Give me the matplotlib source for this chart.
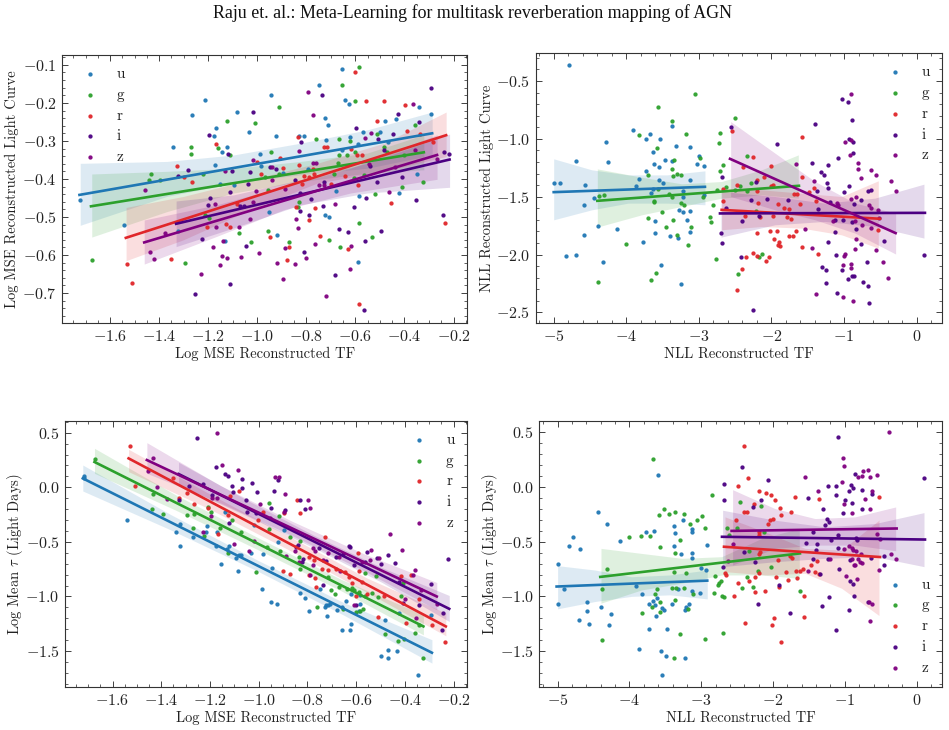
import matplotlib

matplotlib.use("Agg")
import matplotlib.pyplot as plt
import numpy as np

plt.rcParams["font.family"] = ["cmr10", "DejaVu Serif"]
plt.rcParams["mathtext.fontset"] = "cm"
plt.rcParams["axes.formatter.use_mathtext"] = True
plt.rcParams["axes.unicode_minus"] = True

BANDS = ["u", "g", "r", "i", "z"]
COLORS = ["#1f77b4", "#2ca02c", "#e0262a", "#4b0082", "#800080"]

# (x, y) scatter per band, MSE light curve vs MSE transfer function
MSE_LC_U = [(-1.722, -0.456), (-1.543, -0.522), (-1.343, -0.317), (-1.267, -0.231), (-1.212, -0.193), (-1.167, -0.265), (-1.175, -0.287), (-1.142, -0.33), (-1.122, -0.317), (-1.083, -0.225), (-1.034, -0.277), (-0.946, -0.178), (-0.925, -0.287), (-0.988, -0.335), (-0.985, -0.367), (-1.173, -0.364), (-1.152, -0.413), (-1.097, -0.415), (-0.897, -0.385), (-0.951, -0.487), (-0.92, -0.548), (-1.131, -0.563), (-1.322, -0.536), (-0.829, -0.287), (-0.81, -0.287), (-0.747, -0.153), (-0.724, -0.241), (-0.712, -0.258), (-0.72, -0.297), (-0.654, -0.112), (-0.641, -0.192), (-0.626, -0.202), (-0.623, -0.29), (-0.656, -0.324), (-0.589, -0.308), (-0.569, -0.277), (-0.499, -0.277), (-0.479, -0.247), (-0.433, -0.242), (-0.467, -0.304), (-0.339, -0.21), (-0.291, -0.23), (-0.347, -0.387), (-0.422, -0.437), (-0.584, -0.444), (-0.678, -0.432), (-0.724, -0.495), (-0.709, -0.5), (-0.589, -0.619), (-0.793, -0.375)]
MSE_LC_G = [(-1.673, -0.614), (-1.442, -0.402), (-1.434, -0.388), (-1.395, -0.402), (-1.272, -0.317), (-1.269, -0.334), (-1.22, -0.387), (-1.159, -0.319), (-1.124, -0.247), (-1.113, -0.336), (-1.008, -0.252), (-0.912, -0.21), (-0.944, -0.329), (-0.967, -0.394), (-0.958, -0.428), (-0.913, -0.386), (-0.761, -0.294), (-0.665, -0.294), (-0.654, -0.154), (-0.601, -0.196), (-0.584, -0.105), (-0.623, -0.301), (-0.665, -0.336), (-0.635, -0.336), (-0.603, -0.329), (-0.669, -0.357), (-0.688, -0.387), (-0.607, -0.398), (-0.563, -0.39), (-0.51, -0.282), (-0.482, -0.315), (-0.471, -0.329), (-0.403, -0.337), (-0.411, -0.42), (-0.52, -0.439), (-0.355, -0.259), (-0.325, -0.409), (-0.584, -0.516), (-0.532, -0.554), (-0.706, -0.561), (-0.663, -0.579), (-0.871, -0.566), (-0.958, -0.537), (-1.027, -0.566), (-1.075, -0.541), (-1.295, -0.621), (-1.196, -0.502), (-0.829, -0.461), (-0.833, -0.473), (-1.214, -0.494)]
MSE_LC_R = [(-1.533, -0.625), (-1.512, -0.673), (-1.352, -0.61), (-1.329, -0.366), (-1.3, -0.396), (-1.267, -0.407), (-1.167, -0.307), (-1.205, -0.527), (-1.128, -0.518), (-1.11, -0.527), (-1.082, -0.465), (-1.003, -0.355), (-0.985, -0.386), (-0.906, -0.345), (-0.894, -0.372), (-0.835, -0.29), (-0.831, -0.364), (-0.947, -0.554), (-0.871, -0.58), (-0.88, -0.612), (-0.842, -0.475), (-0.811, -0.392), (-0.818, -0.414), (-0.79, -0.394), (-0.79, -0.508), (-0.766, -0.477), (-0.743, -0.549), (-0.773, -0.374), (-0.767, -0.387), (-0.727, -0.315), (-0.716, -0.316), (-0.701, -0.413), (-0.641, -0.392), (-0.63, -0.585), (-0.616, -0.32), (-0.601, -0.12), (-0.593, -0.337), (-0.573, -0.336), (-0.589, -0.417), (-0.555, -0.196), (-0.51, -0.247), (-0.484, -0.196), (-0.456, -0.464), (-0.396, -0.206), (-0.39, -0.273), (-0.337, -0.282), (-0.283, -0.302), (-0.234, -0.515), (-0.586, -0.729)]
MSE_LC_I = [(-0.566, -0.746), (-1.256, -0.702), (-1.11, -0.677), (-0.683, -0.653), (-1.226, -0.559), (-1.199, -0.469), (-1.192, -0.451), (-1.113, -0.435), (-1.325, -0.393), (-1.283, -0.376), (-1.195, -0.284), (-1.12, -0.334), (-1.103, -0.378), (-1.029, -0.383), (-1.039, -0.413), (-1.016, -0.225), (-0.947, -0.369), (-0.922, -0.374), (-0.735, -0.178), (-0.822, -0.304), (-0.845, -0.404), (-0.827, -0.436), (-0.824, -0.484), (-0.789, -0.494), (-0.808, -0.593), (-0.781, -0.453), (-0.732, -0.47), (-0.729, -0.407), (-0.665, -0.532), (-0.63, -0.539), (-0.599, -0.265), (-0.604, -0.475), (-0.562, -0.564), (-0.555, -0.45), (-0.542, -0.366), (-0.513, -0.409), (-0.507, -0.295), (-0.482, -0.323), (-0.495, -0.537), (-0.445, -0.283), (-0.426, -0.228), (-0.411, -0.396), (-0.351, -0.455), (-0.34, -0.249), (-0.291, -0.16), (-0.242, -0.495), (-0.24, -0.329), (-0.22, -0.334), (-1.069, -0.47), (-1.056, -0.471), (-1.048, -0.576)]
MSE_LC_Z = [(-1.457, -0.43), (-1.438, -0.593), (-1.42, -0.61), (-1.378, -0.543), (-1.23, -0.649), (-1.171, -0.465), (-1.169, -0.527), (-1.18, -0.579), (-1.142, -0.602), (-1.152, -0.627), (-1.125, -0.608), (-1.14, -0.563), (-1.131, -0.38), (-1.076, -0.526), (-1.068, -0.606), (-1.031, -0.506), (-1.019, -0.461), (-1.004, -0.432), (-1.016, -0.351), (-0.993, -0.594), (-0.94, -0.369), (-0.94, -0.404), (-0.92, -0.62), (-0.897, -0.664), (-0.888, -0.583), (-0.887, -0.426), (-0.848, -0.623), (-0.841, -0.505), (-0.834, -0.528), (-0.831, -0.327), (-0.8, -0.607), (-0.792, -0.171), (-0.774, -0.231), (-0.773, -0.358), (-0.762, -0.357), (-0.766, -0.572), (-0.75, -0.416), (-0.729, -0.416), (-0.718, -0.707), (-0.683, -0.465), (-0.618, -0.576), (-0.623, -0.638), (-0.561, -0.292), (-0.535, -0.28), (-0.543, -0.361), (-0.463, -0.435), (-0.44, -0.368), (-0.366, -0.203), (-0.359, -0.324), (-0.269, -0.348)]

# NLL light curve vs NLL transfer function
NLL_LC_U = [(-4.784, -0.362), (-4.991, -1.378), (-4.913, -1.378), (-4.697, -1.196), (-4.564, -1.401), (-4.44, -1.51), (-4.587, -1.571), (-4.587, -1.83), (-4.835, -2.011), (-4.688, -2.008), (-4.325, -2.068), (-4.389, -1.752), (-4.284, -1.027), (-4.256, -1.202), (-4.128, -1.778), (-3.907, -0.923), (-3.87, -1.406), (-3.82, -1.346), (-3.765, -1.89), (-3.728, -0.998), (-3.678, -0.96), (-3.724, -1.274), (-3.655, -1.47), (-3.636, -1.435), (-3.636, -1.11), (-3.618, -1.222), (-3.609, -1.711), (-3.6, -1.818), (-3.554, -1.24), (-3.54, -1.004), (-3.554, -1.355), (-3.494, -1.383), (-3.471, -1.185), (-3.522, -2.094), (-3.393, -1.844), (-3.375, -0.888), (-3.366, -1.191), (-3.32, -1.058), (-3.283, -1.861), (-3.269, -1.619), (-3.251, -2.255), (-3.223, -1.634), (-3.223, -1.504), (-3.214, -1.453), (-3.168, -1.7), (-3.122, -1.07), (-3.127, -1.355), (-3.122, -1.628), (-3.127, -1.809), (-3.021, -1.222), (-2.998, -1.145), (-2.925, -1.234), (-2.925, -1.49)]
NLL_LC_G = [(-4.389, -2.238), (-4.371, -1.493), (-4.302, -1.487), (-4.004, -1.91), (-3.82, -0.966), (-3.705, -1.688), (-3.696, -1.317), (-3.664, -2.218), (-3.59, -2.16), (-3.581, -1.081), (-3.568, -0.724), (-3.623, -1.545), (-3.618, -1.536), (-3.512, -1.634), (-3.453, -1.758), (-3.568, -1.435), (-3.407, -1.476), (-3.375, -1.265), (-3.366, -0.845), (-3.347, -1.185), (-3.356, -1.32), (-3.366, -1.504), (-3.356, -1.7), (-3.297, -1.303), (-3.242, -1.314), (-3.297, -1.835), (-3.246, -1.556), (-3.2, -1.568), (-3.182, -0.958), (-3.154, -1.919), (-3.108, -1.766), (-3.053, -0.615), (-2.984, -1.168), (-2.943, -1.501), (-2.847, -1.677), (-2.828, -1.723), (-2.805, -1.568), (-2.769, -2.037), (-2.75, -1.441), (-2.718, -1.035), (-2.709, -0.949), (-2.709, -1.277), (-2.672, -1.228), (-2.631, -1.415), (-2.502, -0.822), (-2.461, -2.172), (-2.337, -1.147), (-2.282, -1.378), (-2.337, -1.447), (-2.433, -1.409), (-2.213, -1.622), (-2.176, -2.025), (-2.135, -1.996), (-2.502, -1.444)]
NLL_LC_R = [(-2.548, -0.929), (-2.672, -1.43), (-2.663, -1.536), (-2.479, -1.401), (-2.388, -1.24), (-2.25, -1.156), (-2.479, -2.31), (-2.406, -2.129), (-2.346, -2.019), (-2.365, -1.663), (-2.25, -1.988), (-2.204, -2.011), (-2.204, -1.45), (-2.195, -1.355), (-2.181, -1.559), (-2.204, -1.812), (-2.158, -1.68), (-2.107, -1.329), (-2.039, -2.019), (-2.08, -2.06), (-2.006, -1.412), (-2.002, -1.234), (-1.974, -1.398), (-1.974, -1.668), (-2.02, -1.795), (-1.928, -1.795), (-1.96, -1.87), (-1.896, -1.89), (-1.915, -1.922), (-1.882, -1.93), (-1.91, -1.562), (-1.823, -1.6), (-1.781, -1.674), (-1.754, -1.608), (-1.731, -1.694), (-1.758, -1.844), (-1.699, -1.844), (-1.662, -1.795), (-1.685, -1.481), (-1.644, -1.478), (-1.607, -1.562), (-1.584, -1.936), (-1.575, -0.986), (-1.575, -1.329), (-1.478, -1.458), (-1.41, -1.427), (-1.391, -1.536), (-1.364, -1.996), (-0.528, -1.792)]
NLL_LC_I = [(-2.681, -1.329), (-2.69, -1.812), (-2.677, -1.899), (-2.626, -1.594), (-2.557, -0.9), (-2.406, -1.712), (-2.424, -2.025), (-2.25, -2.48), (-2.287, -1.527), (-2.213, -1.372), (-2.167, -1.671), (-2.066, -1.522), (-1.924, -1.044), (-1.768, -1.527), (-1.4, -0.871), (-1.442, -1.211), (-1.377, -1.45), (-1.354, -1.608), (-1.322, -1.286), (-1.272, -1.317), (-1.226, -1.225), (-1.23, -1.378), (-1.217, -1.421), (-1.226, -1.893), (-1.198, -1.545), (-1.249, -2.132), (-1.304, -2.112), (-1.253, -2.244), (-1.102, -2.333), (-1.12, -1.7), (-1.12, -1.809), (-1.116, -2.002), (-1.088, -1.168), (-0.95, -0.681), (-0.932, -1.001), (-0.937, -1.412), (-1.0, -1.458), (-1.01, -1.7), (-1.024, -2.132), (-0.946, -2.212), (-0.891, -2.189), (-0.863, -2.189), (-0.891, -0.837), (-0.882, -1.119), (-0.872, -1.03), (-0.895, -1.717), (-0.84, -1.781), (-0.859, -1.565), (-0.767, -1.907), (-0.767, -1.533), (-0.67, -1.455), (-0.629, -1.441), (-0.735, -2.238), (-0.67, -2.273), (-0.652, -2.417), (-0.455, -1.887), (0.101, -2.002), (-1.033, -0.658), (-0.68, -2.068)]
NLL_LC_Z = [(-1.662, -1.222), (-1.534, -1.783), (-1.437, -1.948), (-1.391, -2.339), (-1.41, -1.366), (-1.152, -1.709), (-1.097, -1.556), (-1.079, -1.568), (-1.015, -2.091), (-1.015, -2.371), (-0.992, -1.027), (-1.006, -2.017), (-0.987, -1.996), (-0.9, -0.612), (-0.9, -1.009), (-0.923, -1.142), (-0.904, -1.516), (-0.9, -2.08), (-0.9, -2.114), (-0.872, -2.402), (-0.845, -1.953), (-0.84, -1.87), (-0.836, -1.499), (-0.854, -1.711), (-0.813, -1.208), (-0.803, -1.257), (-0.767, -1.335), (-0.748, -1.746), (-0.629, -1.268), (-0.56, -1.309), (-0.657, -1.571), (-0.629, -1.599), (-0.629, -1.772), (-0.528, -1.619), (-0.556, -1.959), (-0.519, -1.686), (-0.459, -2.068), (-0.39, -2.201), (-0.358, -1.366), (-0.289, -1.45)]

# mean lag vs MSE transfer function
MSE_TAU_U = [(-1.719, 0.107), (-1.719, 0.082), (-1.541, -0.299), (-1.34, -0.405), (-1.324, -0.534), (-1.321, -0.335), (-1.268, -0.457), (-1.211, -0.357), (-1.216, -0.409), (-1.176, -0.534), (-1.17, -0.405), (-1.154, -0.704), (-1.138, -0.229), (-1.12, -0.534), (-1.131, -0.564), (-1.095, -0.643), (-1.082, -0.619), (-1.072, -0.619), (-1.083, -0.762), (-1.032, -0.601), (-1.019, -0.345), (-0.986, -0.93), (-0.983, -0.61), (-0.947, -0.741), (-0.949, -1.052), (-0.926, -1.07), (-0.919, -0.497), (-0.895, -0.39), (-0.83, -0.97), (-0.808, -1.012), (-0.794, -1.134), (-0.748, -0.936), (-0.724, -1.076), (-0.727, -1.098), (-0.714, -1.082), (-0.707, -1.067), (-0.72, -1.183), (-0.677, -1.128), (-0.657, -1.098), (-0.657, -1.305), (-0.64, -1.04), (-0.626, -1.305), (-0.62, -1.25), (-0.623, -0.976), (-0.59, -1.131), (-0.585, -1.07), (-0.586, -0.988), (-0.497, -1.546), (-0.482, -1.216), (-0.47, -1.488), (-0.47, -1.564), (-0.433, -1.497), (-0.425, -1.152), (-0.348, -1.716), (-0.292, -1.165)]
MSE_TAU_G = [(-1.672, 0.256), (-1.433, -0.064), (-1.439, -0.198), (-1.392, -0.247), (-1.295, -0.256), (-1.27, -0.375), (-1.266, -0.244), (-1.224, -0.448), (-1.21, -0.177), (-1.196, -0.229), (-1.158, -0.369), (-1.109, -0.299), (-1.125, -0.601), (-1.073, -0.409), (-1.009, -0.78), (-0.967, -0.543), (-0.956, -0.381), (-0.958, -0.14), (-0.915, -0.259), (-0.912, -0.582), (-0.871, -0.454), (-0.83, -0.488), (-0.833, -0.634), (-0.83, -0.747), (-0.76, -1.095), (-0.714, -0.826), (-0.704, -0.939), (-0.688, -0.976), (-0.672, -0.909), (-0.656, -1.113), (-0.638, -0.93), (-0.618, -0.918), (-0.608, -0.939), (-0.59, -0.96), (-0.601, -1.143), (-0.584, -1.137), (-0.562, -0.787), (-0.573, -1.113), (-0.562, -0.994), (-0.533, -0.97), (-0.518, -0.811), (-0.512, -1.006), (-0.481, -1.341), (-0.43, -1.405), (-0.414, -0.991), (-0.408, -0.878), (-0.357, -1.335), (-0.344, -1.259), (-0.325, -1.564), (-0.403, -1.39)]
MSE_TAU_R = [(-1.53, 0.378), (-1.507, 0.012), (-1.35, 0.082), (-1.326, -0.095), (-1.296, -0.052), (-1.265, -0.152), (-1.207, -0.189), (-1.165, -0.43), (-1.118, -0.076), (-1.125, -0.253), (-1.082, -0.034), (-1.001, -0.299), (-0.984, -0.229), (-0.902, -0.765), (-0.895, -0.232), (-0.871, -0.793), (-0.844, -0.116), (-0.83, -0.232), (-0.792, -0.634), (-0.775, -0.665), (-0.792, -0.802), (-0.768, -0.829), (-0.764, -0.912), (-0.729, -0.457), (-0.741, -0.744), (-0.714, -0.756), (-0.682, -0.75), (-0.645, -0.777), (-0.629, -0.823), (-0.615, -0.878), (-0.592, -0.604), (-0.588, -0.771), (-0.574, -0.863), (-0.556, -0.973), (-0.601, -1.0), (-0.511, -1.189), (-0.484, -0.991), (-0.396, -1.247), (-0.414, -0.808), (-0.376, -0.802), (-0.344, -1.024), (-0.287, -1.259), (-0.235, -1.418)]
MSE_TAU_I = [(-1.328, -0.116), (-1.255, 0.454), (-1.284, 0.012), (-1.227, 0.027), (-1.176, 0.189), (-1.192, -0.073), (-1.139, 0.119), (-1.125, 0.107), (-1.11, 0.012), (-1.107, -0.04), (-1.123, -0.323), (-1.069, 0.076), (-1.068, -0.009), (-1.053, -0.116), (-1.046, -0.229), (-1.013, -0.238), (-1.028, 0.043), (-1.006, -0.04), (-0.949, -0.186), (-0.921, 0.067), (-0.939, -0.034), (-0.894, -0.207), (-0.831, -0.116), (-0.809, -0.198), (-0.848, -0.543), (-0.837, -0.527), (-0.823, -0.68), (-0.819, -0.655), (-0.753, -0.558), (-0.737, -0.893), (-0.724, -0.671), (-0.683, -0.637), (-0.652, -0.607), (-0.625, -0.549), (-0.629, -0.534), (-0.608, -0.716), (-0.556, -0.595), (-0.563, -0.68), (-0.499, -0.704), (-0.515, -0.652), (-0.47, -0.619), (-0.439, -0.689), (-0.426, -0.863), (-0.406, -1.061), (-0.344, -1.082), (-0.292, -0.887), (-0.246, -1.311), (-0.242, -1.152), (-0.221, -0.659), (-0.6, -1.076)]
MSE_TAU_Z = [(-1.456, 0.146), (-1.434, 0.265), (-1.418, 0.006), (-1.377, -0.11), (-1.227, -0.412), (-1.194, -0.259), (-1.192, -0.101), (-1.172, 0.5), (-1.151, 0.201), (-1.17, -0.101), (-1.086, 0.159), (-1.103, -0.521), (-1.038, -0.582), (-1.021, -0.488), (-0.994, -0.152), (-0.953, -0.284), (-0.935, 0.098), (-0.917, 0.098), (-0.89, -0.064), (-0.895, -0.223), (-0.887, -0.625), (-0.849, -0.582), (-0.833, -0.68), (-0.798, -0.116), (-0.789, -0.192), (-0.778, -0.558), (-0.768, -0.579), (-0.778, -0.716), (-0.789, -0.802), (-0.716, -0.598), (-0.734, -0.665), (-0.666, -0.771), (-0.672, -0.634), (-0.607, -1.076), (-0.577, -0.68), (-0.54, -0.576), (-0.543, -0.665), (-0.508, -0.649), (-0.463, -0.43), (-0.411, -0.576), (-0.399, -1.021), (-0.365, -0.802), (-0.359, -0.759), (-0.354, -1.198), (-0.335, -0.942), (-0.269, -1.067)]

# mean lag vs NLL transfer function
NLL_TAU_U = [(-4.995, -0.704), (-4.995, -1.068), (-4.907, -0.929), (-4.838, -0.537), (-4.791, -0.458), (-4.694, -0.564), (-4.708, -1.214), (-4.592, -1.05), (-4.587, -1.132), (-4.568, -1.25), (-4.443, -0.228), (-4.318, -0.334), (-4.396, -1.093), (-4.29, -1.263), (-4.262, -1.162), (-4.136, -0.492), (-3.904, -0.904), (-3.872, -1.484), (-3.825, -0.98), (-3.77, -0.413), (-3.728, -1.071), (-3.728, -1.302), (-3.663, -0.404), (-3.677, -1.038), (-3.644, -1.08), (-3.621, -1.011), (-3.635, -1.181), (-3.603, 0.106), (-3.556, -1.496), (-3.547, -1.102), (-3.524, -1.123), (-3.547, -1.715), (-3.496, -1.542), (-3.477, -1.302), (-3.403, -1.074), (-3.38, -0.355), (-3.37, -0.422), (-3.38, -0.537), (-3.329, -0.935), (-3.282, -0.61), (-3.222, -1.563), (-3.259, -0.3), (-3.227, -1.123), (-3.217, -1.093), (-3.171, -1.074), (-3.129, -0.388), (-3.129, -0.407), (-3.129, -0.601), (-3.129, -0.649), (-3.129, -0.947), (-3.018, -0.968), (-3.004, -0.737), (-2.92, -0.531), (-2.929, -0.756)]
NLL_TAU_G = [(-3.672, 0.258), (-3.514, -0.197), (-3.593, -0.252), (-3.449, -0.246), (-3.361, -0.228), (-3.245, -0.246), (-3.157, -0.334), (-3.055, -0.297), (-2.985, -0.267), (-2.953, -0.373), (-2.851, -0.07), (-4.006, -0.455), (-3.839, -0.449), (-3.709, -0.449), (-3.575, -0.546), (-3.301, -0.486), (-3.361, -0.601), (-3.38, -0.777), (-3.208, -0.789), (-4.387, -0.935), (-4.313, -0.747), (-4.378, -1.402), (-3.825, -1.15), (-3.621, -0.935), (-3.64, -0.977), (-3.686, -1.093), (-3.575, -1.056), (-3.575, -1.144), (-3.412, -0.92), (-3.347, -0.92), (-3.245, -0.923), (-3.37, -1.032), (-3.18, -1.114), (-3.296, -1.341), (-3.375, -1.56), (-3.11, -0.974), (-2.948, -1.39), (-2.827, -0.968), (-2.809, -0.816), (-2.772, -0.895), (-2.748, -0.88), (-2.721, -0.856), (-2.711, -0.995), (-2.679, -1.005), (-2.702, -1.335), (-2.646, -0.379), (-2.614, -0.44), (-2.502, -0.373), (-2.461, -0.14), (-2.433, -0.92), (-2.358, -0.822), (-2.335, -0.583), (-2.279, -0.91), (-2.21, -0.768), (-2.173, -0.176), (-2.131, -0.407), (-2.033, -0.734), (-1.63, -0.95)]
NLL_TAU_R = [(-2.405, 0.379), (-2.349, 0.082), (-2.493, 0.006), (-2.201, -0.033), (-2.098, -0.052), (-2.024, -0.076), (-1.973, -0.115), (-2.261, -0.152), (-2.405, -0.228), (-2.363, -0.228), (-2.512, -0.303), (-2.038, -0.3), (-2.001, -0.294), (-2.075, -0.34), (-1.903, -0.191), (-1.885, -0.258), (-1.755, -0.228), (-1.695, -0.094), (-1.36, -0.109), (-0.52, -0.094), (-2.201, -0.41), (-2.201, -0.434), (-2.182, -0.592), (-2.191, -0.616), (-2.669, -0.789), (-2.66, -0.804), (-2.549, -0.998), (-2.484, -0.88), (-2.335, -0.862), (-2.252, -0.822), (-2.201, -0.789), (-2.252, -0.962), (-2.108, -0.95), (-2.386, -1.244), (-2.019, -1.259), (-1.992, -1.196), (-1.894, -1.417), (-1.959, -0.822), (-1.917, -0.91), (-1.936, -0.665), (-1.824, -0.774), (-1.787, -0.847), (-1.764, -0.631), (-1.732, -0.646), (-1.681, -0.771), (-1.662, -0.832), (-1.625, -0.765), (-1.588, -0.747), (-1.476, -0.71), (-1.411, -0.774), (-1.393, -0.677), (-1.574, -0.998), (-1.574, -1.187), (-1.356, -0.798)]
NLL_TAU_I = [(-2.688, 0.03), (-2.679, -0.121), (-2.697, -0.734), (-2.428, 0.188), (-2.405, -0.592), (-2.215, -1.074), (-2.279, -0.182), (-2.173, -0.121), (-2.252, -0.683), (-2.066, 0.061), (-1.922, -0.892), (-1.764, -1.15), (-1.509, -0.1), (-1.537, -0.51), (-1.439, -0.41), (-1.383, -0.519), (-1.439, -0.662), (-1.402, -0.577), (-1.346, -0.795), (-1.305, -0.197), (-1.272, -0.343), (-1.249, -0.288), (-1.216, -0.322), (-1.24, 0.012), (-1.323, -1.086), (-1.216, -1.005), (-1.188, -0.486), (-1.23, -0.662), (-1.119, -1.308), (-1.123, -0.076), (-1.119, 0.012), (-1.091, 0.455), (-1.091, -0.44), (-1.091, -0.555), (-1.077, -0.747), (-0.947, -0.039), (-0.993, -0.115), (-0.915, 0.015), (-0.882, -0.009), (-0.905, -0.146), (-1.026, -0.234), (-0.938, -1.129), (-0.826, -0.486), (-0.845, -0.47), (-0.859, 0.121), (-0.929, -0.668), (-0.933, -0.859), (-0.882, -0.886), (-0.873, -0.995), (-0.761, -0.197), (-0.766, -0.03), (-0.627, -0.061), (-0.45, -0.634), (-0.455, -0.716), (-0.636, -0.653), (-0.682, -1.053), (0.102, 0.082)]
NLL_TAU_Z = [(-0.385, 0.501), (-1.026, 0.264), (-1.007, 0.194), (-1.035, 0.042), (-0.812, 0.091), (-0.761, 0.097), (-0.752, 0.143), (-0.673, 0.158), (-0.655, 0.094), (-0.557, 0.112), (-1.555, 0.091), (-1.379, -0.039), (-1.007, -0.152), (-0.896, -0.24), (-0.72, -0.112), (-0.622, -0.039), (-0.65, -0.203), (-0.557, -0.431), (-0.511, -0.476), (-0.357, -0.613), (-0.292, -0.662), (-0.52, -0.759), (-0.659, -1.053), (-0.627, -1.068), (-0.655, -1.226), (-0.766, -0.698), (-0.873, -0.713), (-0.854, -0.713), (-0.836, -0.841), (-0.989, -0.81), (-1.007, -0.568), (-0.938, -0.54), (-0.905, -0.561), (-0.882, -0.577), (-0.85, -0.586), (-0.822, -0.659), (-0.78, -0.613), (-0.905, -0.662), (-0.789, -0.683), (-1.202, -0.659), (-2.563, -0.519), (-2.623, -0.677), (-1.518, -0.765)]

# regression lines: x0, y0, x1, y1 for each band
MSE_LC_FITS = [(-1.725, -0.442, -0.287, -0.28), (-1.678, -0.472, -0.321, -0.33), (-1.536, -0.555, -0.23, -0.285), (-1.331, -0.518, -0.216, -0.349), (-1.461, -0.567, -0.267, -0.337)]
NLL_LC_FITS = [(-5.0, -1.461, -2.916, -1.415), (-4.399, -1.536, -1.621, -1.406), (-2.686, -1.614, -0.505, -1.691), (-2.709, -1.645, 0.115, -1.64), (-2.571, -1.173, -0.289, -1.815)]
MSE_TAU_FITS = [(-1.722, 0.082, -0.289, -1.515), (-1.674, 0.232, -0.324, -1.274), (-1.534, 0.265, -0.232, -1.274), (-1.329, 0.122, -0.218, -1.113), (-1.459, 0.25, -0.269, -1.0)]
NLL_TAU_FITS = [(-5.014, -0.91, -2.916, -0.856), (-4.406, -0.822, -1.625, -0.607), (-2.683, -0.546, -0.511, -0.64), (-2.711, -0.455, 0.116, -0.48), (-2.577, -0.401, -0.279, -0.379)]

# confidence bands: x, upper, lower for each band
MSE_LC_CI = [
    ([-1.722, -1.369, -1.097, -0.824, -0.552, -0.287], [-0.359, -0.354, -0.337, -0.306, -0.271, -0.224], [-0.522, -0.446, -0.411, -0.389, -0.372, -0.337]),
    ([-1.675, -1.369, -1.097, -0.824, -0.552, -0.321], [-0.387, -0.38, -0.372, -0.354, -0.332, -0.284], [-0.553, -0.486, -0.437, -0.407, -0.385, -0.376]),
    ([-1.535, -1.301, -1.029, -0.756, -0.484, -0.23], [-0.475, -0.446, -0.402, -0.359, -0.306, -0.224], [-0.615, -0.56, -0.481, -0.411, -0.38, -0.341]),
    ([-1.331, -1.097, -0.824, -0.552, -0.216], [-0.458, -0.442, -0.402, -0.359, -0.282], [-0.578, -0.529, -0.468, -0.437, -0.422]),
    ([-1.461, -1.165, -0.892, -0.62, -0.267], [-0.508, -0.468, -0.42, -0.372, -0.284], [-0.624, -0.551, -0.481, -0.437, -0.401]),
]
NLL_LC_CI = [
    ([-5.0, -4.477, -3.972, -3.444, -2.916], [-1.173, -1.268, -1.312, -1.312, -1.277], [-1.7, -1.614, -1.556, -1.556, -1.57]),
    ([-4.399, -3.788, -3.237, -2.686, -2.135, -1.63], [-1.26, -1.332, -1.389, -1.369, -1.268, -1.139], [-1.763, -1.657, -1.585, -1.513, -1.484, -1.513]),
    ([-2.686, -2.135, -1.584, -1.033, -0.528], [-1.427, -1.441, -1.47, -1.499, -1.363], [-1.786, -1.758, -1.772, -1.83, -1.945]),
    ([-2.695, -1.951, -1.263, -0.574, 0.101], [-1.455, -1.499, -1.556, -1.513, -1.392], [-1.85, -1.743, -1.714, -1.758, -1.858]),
    ([-2.562, -1.951, -1.4, -0.849, -0.289], [-0.851, -1.124, -1.369, -1.556, -1.642], [-1.499, -1.614, -1.7, -1.815, -1.996]),
]
MSE_TAU_CI = [
    ([-1.722, -1.36, -1.005, -0.65, -0.289], [0.204, -0.251, -0.667, -1.057, -1.396], [-0.034, -0.391, -0.767, -1.172, -1.61]),
    ([-1.674, -1.34, -1.0, -0.66, -0.324], [0.357, -0.07, -0.465, -0.845, -1.168], [0.128, -0.21, -0.575, -0.95, -1.351]),
    ([-1.534, -1.21, -0.883, -0.557, -0.232], [0.348, -0.05, -0.44, -0.83, -1.152], [0.143, -0.19, -0.565, -0.96, -1.36]),
    ([-1.329, -1.05, -0.773, -0.495, -0.218], [0.229, -0.115, -0.44, -0.735, -0.991], [0.021, -0.26, -0.555, -0.87, -1.229]),
    ([-1.459, -1.16, -0.864, -0.567, -0.269], [0.409, 0.02, -0.31, -0.61, -0.872], [0.128, -0.14, -0.44, -0.765, -1.122]),
]
NLL_TAU_CI = [
    ([-5.0, -4.48, -3.97, -3.436, -2.916], [-0.719, -0.759, -0.82, -0.804, -0.759], [-1.114, -1.047, -1.0, -0.986, -1.023]),
    ([-4.396, -3.83, -3.273, -2.716, -2.159, -1.634], [-0.561, -0.607, -0.652, -0.637, -0.47, -0.379], [-1.062, -0.941, -0.88, -0.804, -0.804, -0.835]),
    ([-2.669, -2.112, -1.555, -1.045, -0.525], [-0.273, -0.41, -0.561, -0.577, -0.303], [-0.774, -0.804, -0.789, -0.926, -1.175]),
    ([-2.702, -1.973, -1.277, -0.58, 0.102], [-0.212, -0.303, -0.364, -0.334, -0.234], [-0.728, -0.683, -0.652, -0.637, -0.728]),
    ([-2.563, -1.973, -1.416, -0.859, -0.292], [-0.024, -0.197, -0.288, -0.273, -0.182], [-0.713, -0.561, -0.531, -0.531, -0.583]),
]

MSE_XLABEL = "Log MSE Reconstructed TF"
NLL_XLABEL = "NLL Reconstructed TF"
TAU_YLABEL = r"Log Mean $\tau$ (Light Days)"
MSE_XTICKS = [-1.6, -1.4, -1.2, -1.0, -0.8, -0.6, -0.4, -0.2]
NLL_XTICKS = [-5, -4, -3, -2, -1, 0]
TAU_YTICKS = [0.5, 0.0, -0.5, -1.0, -1.5]

W, H = 949, 730


def panel_axes(fig, left, right, top, bottom):
    ax = fig.add_axes([left / W, 1 - bottom / H, (right - left) / W, (bottom - top) / H])
    ax.px = (left, right, top, bottom)
    return ax


def draw_panel(ax, scatters, fits, cis, xlim, ylim, xticks, yticks, xlabel, ylabel, legend_loc, ylabel_px, xlabel_px):
    for pts, fit, ci, name, color in zip(scatters, fits, cis, BANDS, COLORS):
        xy = np.array(pts)
        ax.scatter(xy[:, 0], xy[:, 1], s=9.5, color=color, linewidths=0, alpha=0.95, label=name, zorder=3)
        ax.plot([fit[0], fit[2]], [fit[1], fit[3]], color=color, lw=1.9, zorder=4)
        ax.fill_between(ci[0], ci[1], ci[2], color=color, alpha=0.15, linewidth=0, zorder=2)

    ax.set_xlim(xlim)
    ax.set_ylim(ylim)
    ax.set_xticks(xticks)
    ax.set_yticks(yticks)
    ax.minorticks_on()
    ax.tick_params(which="both", direction="in", top=True, right=True, labelsize=11.5, colors="#222222")
    ax.tick_params(which="major", length=4, width=0.6, pad=4)
    ax.tick_params(which="minor", length=2, width=0.5)
    for spine in ax.spines.values():
        spine.set_linewidth(0.8)
        spine.set_color("#333333")

    left, right, top, bottom = ax.px
    ax.set_xlabel(xlabel, fontsize=10.45, color="#222222", va="center")
    ax.set_ylabel(ylabel, fontsize=10.45, color="#222222", va="center")
    ax.xaxis.set_label_coords(0.5, (bottom - xlabel_px) / (bottom - top))
    ax.yaxis.set_label_coords((ylabel_px - left) / (right - left), 0.5)
    ax.legend(loc=legend_loc, frameon=False, fontsize=11, handletextpad=0.75, labelspacing=0.46, borderaxespad=0.41, labelcolor="#222222")


fig = plt.figure(figsize=(W / 100, H / 100), dpi=100)

ax = panel_axes(fig, 62.3, 467, 55, 323)
draw_panel(
    ax, [MSE_LC_U, MSE_LC_G, MSE_LC_R, MSE_LC_I, MSE_LC_Z], MSE_LC_FITS, MSE_LC_CI,
    (-1.795, -0.145), (-0.779, -0.074), MSE_XTICKS, [-0.1, -0.2, -0.3, -0.4, -0.5, -0.6, -0.7],
    MSE_XLABEL, "Log MSE Reconstructed Light Curve", "upper left", 12, 354,
)

ax = panel_axes(fig, 535.7, 942.3, 53.3, 323)
draw_panel(
    ax, [NLL_LC_U, NLL_LC_G, NLL_LC_R, NLL_LC_I, NLL_LC_Z], NLL_LC_FITS, NLL_LC_CI,
    (-5.248, 0.354), (-2.592, -0.261), NLL_XTICKS, [-0.5, -1.0, -1.5, -2.0, -2.5],
    NLL_XLABEL, "NLL Reconstructed Light Curve", "upper right", 487, 354,
)

ax = panel_axes(fig, 65, 467, 420.7, 687)
draw_panel(
    ax, [MSE_TAU_U, MSE_TAU_G, MSE_TAU_R, MSE_TAU_I, MSE_TAU_Z], MSE_TAU_FITS, MSE_TAU_CI,
    (-1.795, -0.145), (-1.829, 0.61), MSE_XTICKS, TAU_YTICKS,
    MSE_XLABEL, TAU_YLABEL, "upper right", 15, 718,
)

ax = panel_axes(fig, 539.3, 942.3, 420.7, 687)
draw_panel(
    ax, [NLL_TAU_U, NLL_TAU_G, NLL_TAU_R, NLL_TAU_I, NLL_TAU_Z], NLL_TAU_FITS, NLL_TAU_CI,
    (-5.255, 0.357), (-1.829, 0.607), NLL_XTICKS, TAU_YTICKS,
    NLL_XLABEL, TAU_YLABEL, "lower right", 490, 718,
)

fig.text(472.5 / W, 1 - 13 / H, "Raju et. al.: Meta-Learning for multitask reverberation mapping of AGN",
         family="Liberation Serif", fontsize=12.9, ha="center", va="center", color="#111111")

fig.savefig("out.png", dpi=100)
